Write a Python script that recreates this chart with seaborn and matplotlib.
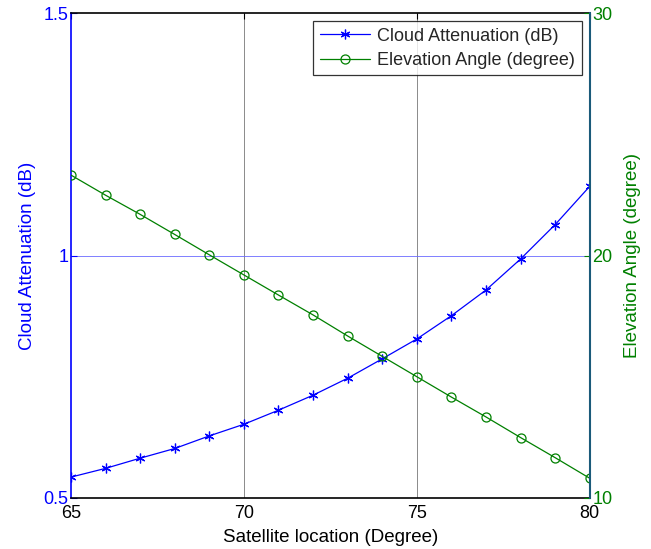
import matplotlib
matplotlib.use("Agg")
import matplotlib.pyplot as plt
import seaborn as sns
import pandas as pd

sns.set_style("white")
plt.rcParams['font.family'] = ['Liberation Sans', 'DejaVu Sans']

satellite_location = [65, 66, 67, 68, 69, 70, 71, 72, 73, 74, 75, 76, 77, 78, 79, 80]
cloud_attenuation = [0.543, 0.561, 0.582, 0.602, 0.628, 0.652, 0.681, 0.712,
                     0.747, 0.787, 0.828, 0.876, 0.929, 0.993, 1.064, 1.143]
elevation_angle = [23.32, 22.49, 21.70, 20.87, 20.03, 19.20, 18.37, 17.55,
                   16.68, 15.84, 15.00, 14.16, 13.34, 12.49, 11.66, 10.81]

df = pd.DataFrame({"loc": satellite_location,
                   "att": cloud_attenuation,
                   "elev": elevation_angle})

BLUE = "#0000ff"
GREEN = "#008000"
TICK_FS = 13
LABEL_FS = 13.5

fig = plt.figure(figsize=(6.51, 5.49), dpi=100)
ax = fig.add_axes([0.109, 0.093, 0.797, 0.883])
ax2 = ax.twinx()

sns.lineplot(data=df, x="loc", y="att", ax=ax, color=BLUE, lw=0.9,
             marker=(6, 2, 0), markersize=7, markeredgewidth=0.9,
             markeredgecolor=BLUE, label="Cloud Attenuation (dB)", legend=False)
sns.lineplot(data=df, x="loc", y="elev", ax=ax2, color=GREEN, lw=0.9,
             marker="o", markersize=6.5, markerfacecolor="none",
             markeredgewidth=0.9, markeredgecolor=GREEN,
             label="Elevation Angle (degree)", legend=False)

ax.set_xlim(65, 80)
ax.set_ylim(0.5, 1.5)
ax2.set_ylim(10, 30)
ax.set_xticks([65, 70, 75, 80])
ax.set_yticks([0.5, 1, 1.5])
ax.set_yticklabels(["0.5", "1", "1.5"])
ax2.set_yticks([10, 20, 30])

# grid: vertical from x ticks, horizontal from the left axis
for xv in [70, 75]:
    ax.axvline(xv, color="#555555", lw=0.6, alpha=0.8, zorder=0)
ax.axhline(1.0, color="#6a6aff", lw=0.6, zorder=0)

ax.tick_params(axis="x", direction="in", length=4, colors="black",
               labelsize=TICK_FS, top=True, pad=5)
ax.tick_params(axis="y", direction="in", length=4, colors=BLUE,
               labelcolor=BLUE, labelsize=TICK_FS, pad=2)
ax2.tick_params(axis="y", direction="in", length=4, colors=GREEN,
                labelcolor=GREEN, labelsize=TICK_FS, pad=2)

for s in ["top", "bottom"]:
    ax.spines[s].set_color("black")
    ax.spines[s].set_linewidth(1.2)
ax.spines["left"].set_color(BLUE)
ax.spines["left"].set_linewidth(1.2)
ax.spines["right"].set_visible(False)
for s in ["top", "bottom", "left"]:
    ax2.spines[s].set_visible(False)
ax2.spines["right"].set_color("#1a5a7a")
ax2.spines["right"].set_linewidth(1.5)

ax.set_xlabel("Satellite location (Degree)", fontsize=LABEL_FS, color="black", labelpad=5)
ax.set_ylabel("Cloud Attenuation (dB)", fontsize=LABEL_FS, color=BLUE, labelpad=5)
ax2.set_ylabel("Elevation Angle (degree)", fontsize=LABEL_FS, color=GREEN, labelpad=8)

h1, l1 = ax.get_legend_handles_labels()
h2, l2 = ax2.get_legend_handles_labels()
leg = ax2.legend(h1 + h2, l1 + l2, loc="upper right", fontsize=TICK_FS,
                 frameon=True, fancybox=False, edgecolor="black",
                 borderaxespad=0.45, handlelength=2.8, borderpad=0.35,
                 labelspacing=0.4, handletextpad=0.4)
leg.get_frame().set_linewidth(0.9)

fig.savefig("out.png", dpi=100)
